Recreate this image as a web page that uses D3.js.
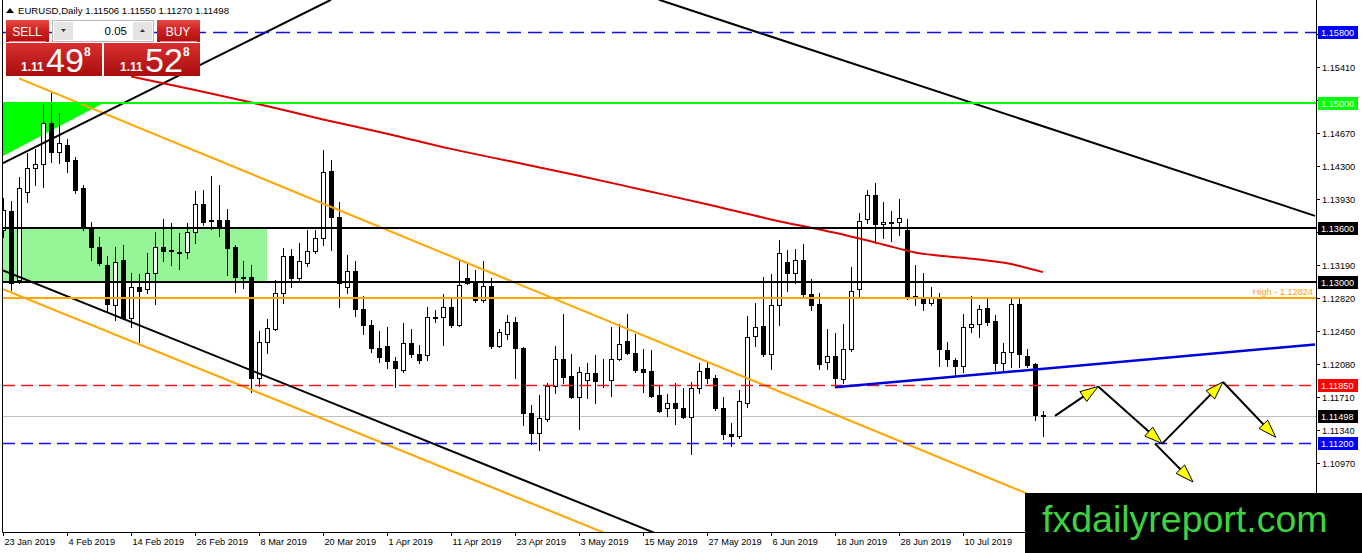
<!DOCTYPE html>
<html>
<head>
<meta charset="utf-8">
<script src="https://cdn.jsdelivr.net/npm/d3@7"></script>
<style>
  body { margin: 0; background: #fff; }
  svg { display: block; font-family: "Liberation Sans", Arial, sans-serif; }
</style>
</head>
<body>
<svg id="chart" width="1362" height="553"></svg>
<script>
// EURUSD daily candles, 23 Jan 2019 .. 24 Jul 2019 (bar index 0..130)
var opens = [1.1358,1.1379,1.1302,1.1401,1.1428,1.1432,1.1478,1.1445,1.1453,1.1437,
  1.1405,1.1360,1.1339,1.1319,1.1274,1.1325,1.1260,1.1294,1.1292,1.1310,
  1.1339,1.1336,1.1333,1.1333,1.1356,1.1387,1.1369,1.1369,1.1369,1.1339,
  1.1306,1.1305,1.1192,1.1233,1.1247,1.1288,1.1329,1.1304,1.1321,1.1335,
  1.1349,1.1424,1.1373,1.1294,1.1312,1.1270,1.1252,1.1226,1.1228,1.1211,
  1.1201,1.1232,1.1219,1.1218,1.1261,1.1261,1.1272,1.1252,1.1304,1.1301,
  1.1280,1.1295,1.1228,1.1242,1.1255,1.1226,1.1153,1.1131,1.1147,1.1184,
  1.1214,1.1195,1.1171,1.1190,1.1198,1.1190,1.1190,1.1214,1.1234,1.1220,
  1.1202,1.1200,1.1173,1.1159,1.1165,1.1159,1.1149,1.1181,1.1204,1.1192,
  1.1159,1.1130,1.1127,1.1164,1.1239,1.1251,1.1219,1.1274,1.1322,1.1310,
  1.1325,1.1286,1.1275,1.1210,1.1217,1.1191,1.1225,1.1292,1.1370,1.1397,
  1.1365,1.1367,1.1367,1.1358,1.1284,1.1283,1.1276,1.1282,1.1224,1.1213,
  1.1206,1.1249,1.1253,1.1271,1.1256,1.1209,1.1221,1.1275,1.1217,1.1208,
  1.11506];
var highs = [1.1394,1.1391,1.1418,1.1444,1.1449,1.1500,1.1512,1.1489,1.1460,1.1440,
  1.1409,1.1367,1.1350,1.1329,1.1339,1.1341,1.1310,1.1309,1.1332,1.1356,
  1.1370,1.1366,1.1355,1.1366,1.1402,1.1403,1.1419,1.1409,1.1382,1.1341,
  1.1323,1.1319,1.1245,1.1258,1.1302,1.1338,1.1337,1.1344,1.1358,1.1358,
  1.1448,1.1437,1.1389,1.1330,1.1323,1.1284,1.1257,1.1245,1.1249,1.1216,
  1.1254,1.1247,1.1229,1.1272,1.1269,1.1286,1.1283,1.1323,1.1320,1.1313,
  1.1323,1.1304,1.1247,1.1263,1.1261,1.1227,1.1162,1.1173,1.1187,1.1228,
  1.1264,1.1219,1.1205,1.1209,1.1218,1.1214,1.1249,1.1253,1.1264,1.1242,
  1.1225,1.1224,1.1183,1.1174,1.1187,1.1181,1.1188,1.1209,1.1211,1.1196,
  1.1171,1.1142,1.1179,1.1262,1.1276,1.1305,1.1309,1.1347,1.1336,1.1337,
  1.1343,1.1303,1.1288,1.1247,1.1243,1.1253,1.1317,1.1377,1.1403,1.1411,
  1.1389,1.1379,1.1393,1.1370,1.1319,1.1310,1.1294,1.1288,1.1233,1.1215,
  1.1264,1.1284,1.1274,1.1282,1.1263,1.1232,1.1282,1.1282,1.1225,1.1209,
  1.11550];
var lows = [1.1350,1.1291,1.1299,1.1389,1.1409,1.1406,1.1434,1.1433,1.1423,1.1400,
  1.1358,1.1325,1.1319,1.1266,1.1257,1.1258,1.1249,1.1233,1.1288,1.1275,
  1.1323,1.1319,1.1315,1.1327,1.1344,1.1364,1.1359,1.1352,1.1308,1.1289,
  1.1293,1.1177,1.1184,1.1220,1.1246,1.1276,1.1294,1.1302,1.1318,1.1332,
  1.1341,1.1336,1.1272,1.1288,1.1262,1.1242,1.1221,1.1210,1.1204,1.1182,
  1.1199,1.1216,1.1209,1.1213,1.1255,1.1229,1.1249,1.1251,1.1298,1.1277,
  1.1277,1.1226,1.1227,1.1236,1.1192,1.1140,1.1118,1.1112,1.1144,1.1176,
  1.1187,1.1170,1.1135,1.1170,1.1165,1.1182,1.1172,1.1213,1.1219,1.1199,
  1.1177,1.1171,1.1154,1.1150,1.1141,1.1148,1.1107,1.1176,1.1187,1.1157,
  1.1124,1.1116,1.1125,1.1160,1.1228,1.1217,1.1202,1.1252,1.1290,1.1299,
  1.1284,1.1269,1.1202,1.1202,1.1182,1.1187,1.1223,1.1284,1.1366,1.1344,
  1.1349,1.1346,1.1353,1.1281,1.1274,1.1269,1.1274,1.1206,1.1206,1.1196,
  1.1199,1.1244,1.1238,1.1252,1.1201,1.1201,1.1205,1.1205,1.1205,1.1145,
  1.11270];
var closes = [1.1380,1.1299,1.1405,1.1428,1.1432,1.1478,1.1445,1.1456,1.1435,1.1403,
  1.1360,1.1339,1.1321,1.1275,1.1322,1.1260,1.1294,1.1290,1.1310,1.1339,
  1.1335,1.1335,1.1332,1.1356,1.1387,1.1367,1.1368,1.1363,1.1338,1.1305,
  1.1304,1.1192,1.1233,1.1248,1.1288,1.1329,1.1304,1.1323,1.1335,1.1349,
  1.1423,1.1373,1.1299,1.1312,1.1270,1.1252,1.1226,1.1216,1.1211,1.1204,
  1.1232,1.1219,1.1213,1.1261,1.1260,1.1272,1.1252,1.1297,1.1299,1.1280,
  1.1295,1.1228,1.1244,1.1255,1.1226,1.1153,1.1131,1.1148,1.1184,1.1214,
  1.1193,1.1171,1.1199,1.1198,1.1189,1.1190,1.1214,1.1230,1.1220,1.1201,
  1.1199,1.1172,1.1155,1.1165,1.1159,1.1149,1.1181,1.1200,1.1192,1.1159,
  1.1130,1.1128,1.1167,1.1238,1.1249,1.1219,1.1274,1.1332,1.1310,1.1325,
  1.1286,1.1274,1.1208,1.1217,1.1192,1.1225,1.1290,1.1368,1.1397,1.1365,
  1.1367,1.1366,1.1372,1.1284,1.1283,1.1276,1.1282,1.1225,1.1214,1.1206,
  1.1249,1.1253,1.1270,1.1255,1.1209,1.1221,1.1275,1.1219,1.1207,1.1151,
  1.11498];

// moving average
var maBars   = [16, 24, 32, 40, 48, 56, 64, 72, 80, 88, 96, 104, 110, 114, 120, 126, 130];
var maValues = [1.1530,1.1515,1.1499,1.1482,1.1466,1.1449,1.1434,1.1419,1.1403,1.1387,
  1.1370,1.1355,1.1342,1.1333,1.1327,1.1320,1.1311];

// date axis
var dateLabels = ["23 Jan 2019","4 Feb 2019","14 Feb 2019","26 Feb 2019","8 Mar 2019","20 Mar 2019",
  "1 Apr 2019","11 Apr 2019","23 Apr 2019","3 May 2019","15 May 2019","27 May 2019","6 Jun 2019",
  "18 Jun 2019","28 Jun 2019","10 Jul 2019"];
var dateBars = [0,8,16,24,32,40,48,56,64,72,80,88,96,104,112,120];

// price axis (labels hidden under a level box are left out)
var priceTicks = [1.15780,1.15410,1.15040,1.14670,1.14300,1.13930,1.13560,1.13190,1.12820,
  1.12450,1.12080,1.11710,1.11340,1.10970,1.10600];
var hiddenTicks = [1.15780, 1.15040, 1.13560, 1.10600];

// horizontal levels
var levelNames  = ["res1158", "res115", "res1136", "res113", "high", "sup11185", "bid", "sup1112"];
var levelValues = [1.15800, 1.15000, 1.13600, 1.13000, 1.12824, 1.11850, 1.11498, 1.11200];

// trendlines as [bar, price] anchor pairs
var upTrend     = [[0, 1.1433], [41, 1.1616]];
var topDown     = [[82, 1.1616], [164, 1.1374]];
var lowChannel  = [[0, 1.1313], [82, 1.1017]];
var orangeHigh  = [[2, 1.1528], [160, 1.0945]];
var orangeLow   = [[0, 1.1292], [76, 1.1016]];
var blueSupport = [[104, 1.1182], [164, 1.1230]];
var greenZone   = [[-1, 1.1360], [33, 1.1300]];
var greenTri    = [[0, 1.1500], [0, 1.1441], [12.5, 1.1500]];

// projected path arrows
var arrowPaths = [
  [[131.5, 1.1150], [136.9, 1.1183]],
  [[136.9, 1.1183], [144.9, 1.1119]],
  [[144.9, 1.1119], [152.5, 1.1188]],
  [[152.5, 1.1188], [159.1, 1.1126]],
  [[144.0, 1.1119], [148.75, 1.1076]]
];

var svg = d3.select("#chart");
var plotRight = 1316, plotBottom = 532;

var x = d3.scaleLinear().domain([0, 130]).range([3, 1043]);
var y = d3.scaleLinear().domain([1.10200, 1.16157]).range([plotBottom, 0]);

var bars = opens.map(function(o, i) {
  return {i: i, o: o, h: highs[i], l: lows[i], c: closes[i]};
});

var defs = svg.append("defs");
defs.append("clipPath").attr("id", "plot")
  .append("rect").attr("x", 3).attr("y", 0).attr("width", plotRight - 3).attr("height", plotBottom);

var g1 = defs.append("linearGradient").attr("id", "redBtn").attr("x1", 0).attr("y1", 0).attr("x2", 0).attr("y2", 1);
g1.append("stop").attr("offset", "0%").attr("stop-color", "#e84a44");
g1.append("stop").attr("offset", "50%").attr("stop-color", "#cc1e1e");
g1.append("stop").attr("offset", "100%").attr("stop-color", "#b01010");
var g2 = defs.append("linearGradient").attr("id", "redBox").attr("x1", 0).attr("y1", 0).attr("x2", 0).attr("y2", 1);
g2.append("stop").attr("offset", "0%").attr("stop-color", "#d93030");
g2.append("stop").attr("offset", "100%").attr("stop-color", "#a80c0c");

var plot = svg.append("g").attr("clip-path", "url(#plot)");

// zones
plot.append("rect")
  .attr("x", x(greenZone[0][0]))
  .attr("y", y(greenZone[0][1]))
  .attr("width", x(greenZone[1][0]) - x(greenZone[0][0]))
  .attr("height", y(greenZone[1][1]) - y(greenZone[0][1]))
  .attr("fill", "#96f596");

plot.append("polygon")
  .attr("points", greenTri.map(function(p) { return x(p[0]) + "," + y(p[1]); }).join(" "))
  .attr("fill", "#00ff00");

// bid line under the candles
plot.append("line")
  .attr("x1", 3).attr("x2", plotRight)
  .attr("y1", Math.round(y(levelValues[6])) + 0.5).attr("y2", Math.round(y(levelValues[6])) + 0.5)
  .attr("stroke", "#c0c0c0").attr("stroke-width", 1);

// candles
var candle = plot.selectAll("g.candle")
    .data(bars)
  .enter().append("g")
    .attr("class", "candle");

candle.append("line")
  .attr("x1", function(d) { return x(d.i) + 0.5; })
  .attr("x2", function(d) { return x(d.i) + 0.5; })
  .attr("y1", function(d) { return Math.round(y(d.h)); })
  .attr("y2", function(d) { return Math.round(y(d.l)) + 1; })
  .attr("stroke", "#000").attr("stroke-width", 1);

candle.append("rect")
  .attr("x", function(d) { return x(d.i) - 1.5; })
  .attr("width", 4)
  .attr("y", function(d) { return Math.round(y(Math.max(d.o, d.c))) + 0.5; })
  .attr("height", function(d) {
    return Math.max(0, Math.round(y(Math.min(d.o, d.c))) - Math.round(y(Math.max(d.o, d.c))));
  })
  .attr("fill", function(d) { return d.c >= d.o ? "#fff" : "#000"; })
  .attr("stroke", "#000").attr("stroke-width", 1);

// trendlines
function trend(pts, color, w) {
  plot.append("line")
    .attr("x1", x(pts[0][0])).attr("y1", y(pts[0][1]))
    .attr("x2", x(pts[1][0])).attr("y2", y(pts[1][1]))
    .attr("stroke", color).attr("stroke-width", w);
}
trend(orangeHigh, "#ffa500", 2);
trend(orangeLow, "#ffa500", 2);
trend(upTrend, "#000", 2);
trend(topDown, "#000", 2);
trend(lowChannel, "#000", 2);

// moving average
var maLine = d3.line()
  .x(function(d, i) { return x(maBars[i]); })
  .y(function(d) { return y(d); })
  .curve(d3.curveMonotoneX);
plot.append("path")
  .datum(maValues)
  .attr("d", maLine)
  .attr("fill", "none").attr("stroke", "#dd0000").attr("stroke-width", 2);

// horizontal levels
var levelStyle = {
  res1158:  {color: "#1010e8", width: 1.5, dash: "14,7", box: "#0000ff", text: "#fff"},
  res115:   {color: "#00ff00", width: 2, dash: null, box: "#00ff00", text: "#f0fff0"},
  res1136:  {color: "#000", width: 2, dash: null, box: "#000", text: "#fff"},
  res113:   {color: "#000", width: 2, dash: null, box: "#000", text: "#fff"},
  high:     {color: "#ffa500", width: 2, dash: null, box: null},
  sup11185: {color: "#f01818", width: 1.5, dash: "12,6", box: "#ff0000", text: "#fff"},
  bid:      {color: null, box: "#000", text: "#fff"},
  sup1112:  {color: "#1010e8", width: 1.5, dash: "12,6", box: "#0000ff", text: "#fff"}
};

levelNames.forEach(function(name, i) {
  var s = levelStyle[name];
  if (!s.color) return;
  var yy = Math.round(y(levelValues[i])) + (s.width < 2 ? 0.5 : 0);
  var ln = plot.append("line")
    .attr("x1", 3).attr("x2", plotRight)
    .attr("y1", yy).attr("y2", yy)
    .attr("stroke", s.color).attr("stroke-width", s.width);
  if (s.dash) ln.attr("stroke-dasharray", s.dash);
});

plot.append("text")
  .attr("x", 1313).attr("y", y(levelValues[4]) - 3)
  .attr("text-anchor", "end")
  .attr("font-size", "9.2px").attr("fill", "#ffa500")
  .text("High - " + levelValues[4].toFixed(5));

// blue support
trend(blueSupport, "#0000dd", 2.5);

// arrows
arrowPaths.forEach(function(a) {
  var x1 = x(a[0][0]), y1 = y(a[0][1]), x2 = x(a[1][0]), y2 = y(a[1][1]);
  var dx = x2 - x1, dy = y2 - y1, len = Math.sqrt(dx * dx + dy * dy);
  var ux = dx / len, uy = dy / len, L = 18, Wd = 6;
  plot.append("line")
    .attr("x1", x1).attr("y1", y1).attr("x2", x2 - ux * 6).attr("y2", y2 - uy * 6)
    .attr("stroke", "#000").attr("stroke-width", 2);
  var bx = x2 - ux * L, by = y2 - uy * L;
  plot.append("polygon")
    .attr("points", [
      [x2, y2],
      [bx - uy * Wd, by + ux * Wd],
      [bx + uy * Wd, by - ux * Wd]
    ].map(function(p) { return p[0] + "," + p[1]; }).join(" "))
    .attr("fill", "#ffff00").attr("stroke", "#000").attr("stroke-width", 1);
});

// frame
svg.append("line").attr("x1", 2.5).attr("x2", 2.5).attr("y1", 0).attr("y2", plotBottom + 0.5)
  .attr("stroke", "#000");
svg.append("line").attr("x1", 2.5).attr("x2", plotRight + 0.5).attr("y1", plotBottom + 0.5).attr("y2", plotBottom + 0.5)
  .attr("stroke", "#000");
svg.append("line").attr("x1", plotRight + 0.5).attr("x2", plotRight + 0.5).attr("y1", 0).attr("y2", plotBottom + 0.5)
  .attr("stroke", "#000");

// price axis
var yAxis = svg.append("g");
priceTicks.forEach(function(p) {
  var yy = Math.round(y(p)) + 0.5;
  yAxis.append("line").attr("x1", plotRight).attr("x2", plotRight + 4)
    .attr("y1", yy).attr("y2", yy).attr("stroke", "#000");
  if (hiddenTicks.indexOf(p) >= 0) return;
  yAxis.append("text").attr("x", 1322).attr("y", yy + 3.5)
    .attr("font-size", "9.2px").attr("fill", "#000")
    .text(p.toFixed(5));
});

// level price boxes
levelNames.forEach(function(name, i) {
  var s = levelStyle[name];
  if (!s.box) return;
  var yy = Math.round(y(levelValues[i]));
  yAxis.append("rect").attr("x", 1318).attr("y", yy - 6).attr("width", 40).attr("height", 13)
    .attr("fill", s.box);
  yAxis.append("text").attr("x", 1321).attr("y", yy + 4)
    .attr("font-size", "9.2px").attr("fill", s.text)
    .text(levelValues[i].toFixed(5));
});

// date axis
var xAxis = svg.append("g");
dateBars.forEach(function(b, i) {
  var xx = Math.round(x(b)) + 0.5;
  xAxis.append("line").attr("x1", xx).attr("x2", xx)
    .attr("y1", plotBottom).attr("y2", plotBottom + 4).attr("stroke", "#000");
  xAxis.append("text").attr("x", xx + 1).attr("y", 545)
    .attr("font-size", "9.2px").attr("fill", "#000")
    .text(dateLabels[i]);
});

// header
svg.append("path").attr("d", "M6,13 L10,8 L14,13 Z").attr("fill", "#000");
svg.append("text").attr("x", 18).attr("y", 14)
  .attr("font-size", "9.6px").attr("fill", "#000")
  .text("EURUSD,Daily  " + [opens[130], highs[130], lows[130], closes[130]].map(function(v) { return v.toFixed(5); }).join(" "));

// one-click trading panel
var panel = svg.append("g");
panel.append("rect").attr("x", 6).attr("y", 20).attr("width", 43).attr("height", 22).attr("fill", "url(#redBtn)");
panel.append("rect").attr("x", 157).attr("y", 20).attr("width", 43).attr("height", 22).attr("fill", "url(#redBtn)");
panel.append("line").attr("x1", 9).attr("x2", 46).attr("y1", 41.5).attr("y2", 41.5).attr("stroke", "#e88");
panel.append("line").attr("x1", 160).attr("x2", 197).attr("y1", 41.5).attr("y2", 41.5).attr("stroke", "#e88");
panel.append("text").attr("x", 27).attr("y", 36).attr("text-anchor", "middle")
  .attr("font-size", "12px").attr("fill", "#fff").text("SELL");
panel.append("text").attr("x", 178).attr("y", 36).attr("text-anchor", "middle")
  .attr("font-size", "12px").attr("fill", "#fff").text("BUY");

panel.append("rect").attr("x", 52.5).attr("y", 20.5).attr("width", 101).attr("height", 21)
  .attr("fill", "#fff").attr("stroke", "#b8b8b8");
panel.append("rect").attr("x", 54).attr("y", 22).attr("width", 19).attr("height", 18).attr("fill", "#e4e4e4");
panel.append("rect").attr("x", 133).attr("y", 22).attr("width", 19).attr("height", 18).attr("fill", "#e4e4e4");
panel.append("path").attr("d", "M61,29 L66,29 L63.5,32 Z").attr("fill", "#333");
panel.append("path").attr("d", "M140,32 L145,32 L142.5,29 Z").attr("fill", "#333");
panel.append("text").attr("x", 127).attr("y", 35).attr("text-anchor", "end")
  .attr("font-size", "11.5px").attr("fill", "#000").text("0.05");

panel.append("rect").attr("x", 6).attr("y", 43).attr("width", 96).attr("height", 33).attr("fill", "url(#redBox)");
panel.append("rect").attr("x", 104).attr("y", 43).attr("width", 96).attr("height", 33).attr("fill", "url(#redBox)");

function priceBox(x0, big, small) {
  panel.append("text").attr("x", x0).attr("y", 71)
    .attr("font-size", "12px").attr("font-weight", "bold").attr("fill", "#fff").text("1.11");
  panel.append("text").attr("x", x0 + 25).attr("y", 72)
    .attr("font-size", "34px").attr("fill", "#fff").text(big);
  panel.append("text").attr("x", x0 + 63).attr("y", 56)
    .attr("font-size", "12px").attr("font-weight", "bold").attr("fill", "#fff").text(small);
}
priceBox(21, "49", "8");
priceBox(120, "52", "8");

// watermark
svg.append("rect").attr("x", 1025).attr("y", 493).attr("width", 337).attr("height", 60).attr("fill", "#000");
svg.append("text").attr("x", 1042).attr("y", 532)
  .attr("font-size", "37.5px").attr("fill", "#3fd23f")
  .text("fxdailyreport.com");
</script>
</body>
</html>
